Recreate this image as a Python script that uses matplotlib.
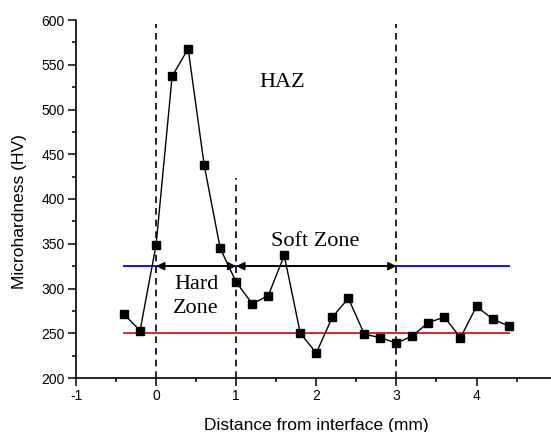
import matplotlib
matplotlib.use("Agg")
import matplotlib.pyplot as plt
from matplotlib.ticker import MultipleLocator

plt.rcParams["axes.unicode_minus"] = False

distance = [-0.4, -0.2, 0.0, 0.2, 0.4, 0.6, 0.8, 1.0, 1.2, 1.4, 1.6, 1.8, 2.0,
            2.2, 2.4, 2.6, 2.8, 3.0, 3.2, 3.4, 3.6, 3.8, 4.0, 4.2, 4.4]
hardness = [271, 253, 349, 537, 568, 438, 345, 307, 283, 292, 337, 250, 228,
            268, 289, 249, 245, 239, 247, 262, 268, 245, 280, 266, 258]

hard_level = 325
base_level = 250
line_x = [-0.4, 4.4]
zone_bounds = [0, 1, 3]
zone_tops = [596, 424, 596]

fig = plt.figure(figsize=(5.51, 4.32), dpi=100)
ax = fig.add_axes([76/551, 54/432, 1 - 76/551, 358/432])

ax.plot(line_x, [hard_level]*2, color="#0000dd", lw=1.3, zorder=2)
ax.plot(line_x, [base_level]*2, color="#dd1111", lw=1.3, zorder=2)

for xb, top in zip(zone_bounds, zone_tops):
    ax.plot([xb, xb], [200, top], color="black", lw=1.2, ls=(0, (4, 3)), zorder=1)

ax.plot(distance, hardness, color="black", lw=1.0, marker="s", ms=6,
        markerfacecolor="black", zorder=4)

arrow_kw = dict(arrowstyle="<|-|>", color="black", lw=1.2,
                mutation_scale=12, shrinkA=0, shrinkB=0)
ax.annotate("", xy=(0, hard_level), xytext=(1, hard_level), arrowprops=arrow_kw, zorder=3)
ax.annotate("", xy=(1, hard_level), xytext=(3, hard_level), arrowprops=arrow_kw, zorder=3)

serif = "Liberation Serif"
ax.text(1.57, 530, "HAZ", family=serif, fontsize=16, ha="center", va="center")
ax.text(1.98, 352, "Soft Zone", family=serif, fontsize=16, ha="center", va="center")
ax.text(0.5, 291, "Hard\nZone", family=serif, fontsize=16, ha="center", va="center",
        linespacing=1.3)

ax.set_xlim(-1, 4.93)
ax.set_ylim(200, 600)
ax.xaxis.set_major_locator(MultipleLocator(1))
ax.xaxis.set_minor_locator(MultipleLocator(0.5))
ax.yaxis.set_major_locator(MultipleLocator(50))
ax.yaxis.set_minor_locator(MultipleLocator(25))
ax.spines["top"].set_visible(False)
ax.spines["right"].set_visible(False)
for s in ("left", "bottom"):
    ax.spines[s].set_linewidth(1.2)
ax.tick_params(which="major", direction="out", length=6, width=1.1,
               labelsize=10, pad=2)
ax.tick_params(which="minor", direction="out", length=3.2, width=1.1)
for lab in ax.get_xticklabels() + ax.get_yticklabels():
    lab.set_family("Liberation Sans")

ax.set_xlabel("Distance from interface (mm)", family="Liberation Sans", fontsize=12.5)
ax.set_ylabel("Microhardness (HV)", family="Liberation Sans", fontsize=12.5)
ax.xaxis.set_label_coords(316/475 - 76/475, -40/358)
ax.yaxis.set_label_coords(-49/475, 0.466)

fig.savefig("out.png", dpi=100)
